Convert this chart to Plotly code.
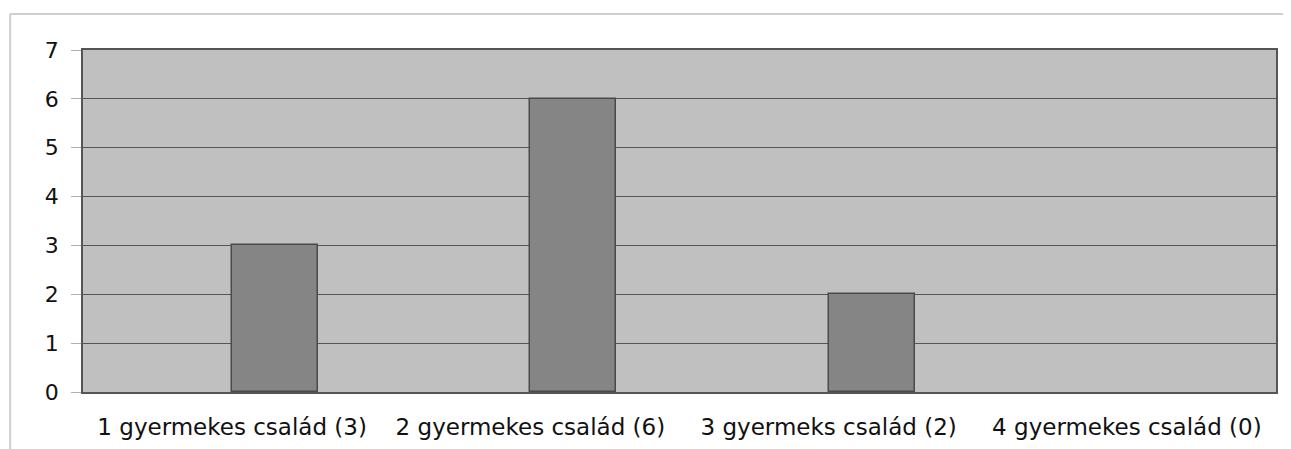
import plotly.graph_objects as go

categories = ["1 gyermekes család (3)", "2 gyermekes család (6)",
              "3 gyermeks család (2)", "4 gyermekes család (0)"]
values = [3, 6, 2, 0]
y_ticks = [0, 1, 2, 3, 4, 5, 6, 7]

outline_widths = [1.5 if v > 0 else 0 for v in values]

fig = go.Figure()
fig.add_trace(go.Bar(
    x=categories, y=values,
    width=0.288, offset=0.0,
    marker=dict(color="#858585", line=dict(color="#4a4a4a", width=outline_widths)),
    showlegend=False,
))

fig.update_layout(
    width=1275, height=441,
    margin=dict(l=75, r=5, t=42, b=57),
    paper_bgcolor="white",
    plot_bgcolor="#c0c0c0",
    font=dict(family="DejaVu Sans, Liberation Sans, sans-serif", size=22, color="#111111"),
    bargap=0,
    xaxis=dict(
        showgrid=False, showline=True, linecolor="#555555", linewidth=1.5,
        mirror=True, ticks="", tickfont=dict(size=23), ticklabelstandoff=14,
    ),
    yaxis=dict(
        range=[0, 7], tickvals=y_ticks, showgrid=True, gridcolor="#555555",
        gridwidth=1, showline=True, linecolor="#555555", linewidth=1.5,
        mirror=True, ticks="outside", ticklen=10, tickcolor="#b0b0b0",
        tickfont=dict(size=22), zeroline=False, ticklabelstandoff=8,
    ),
    shapes=[
        dict(type="line", xref="paper", yref="paper",
             x0=(10 - 83) / 1195, x1=1.01, y0=1 + (50 - 14) / 342, y1=1 + (50 - 14) / 342,
             line=dict(color="#cfcfcf", width=2)),
        dict(type="line", xref="paper", yref="paper",
             x0=(10 - 83) / 1195, x1=(10 - 83) / 1195, y0=1 + (50 - 14) / 342, y1=-0.2,
             line=dict(color="#cfcfcf", width=2)),
    ],
)

fig.write_html("out.html")
